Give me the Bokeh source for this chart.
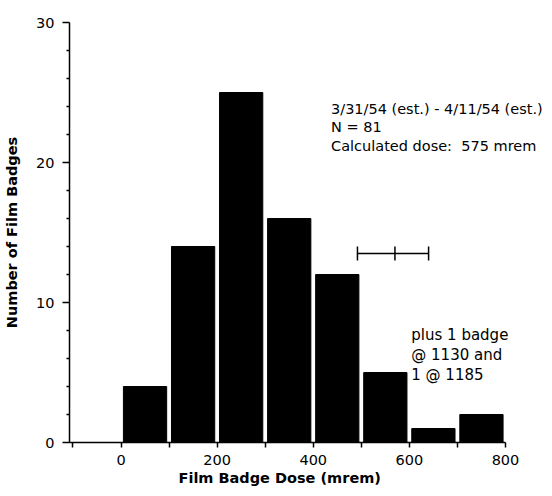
from bokeh.plotting import figure
from bokeh.models import Label, FixedTicker, Title
from bokeh.embed import file_html
from bokeh.resources import INLINE

# ---- data ----
bin_centers = [50, 150, 250, 350, 450, 550, 650, 750]   # mrem (100-mrem bins)
badge_counts = [4, 14, 25, 16, 12, 5, 1, 2]
x_tick_values = [0, 200, 400, 600, 800]
x_minor_values = [-100, 100, 300, 500, 700]
y_tick_values = [0, 10, 20, 30]
y_minor_values = [2, 4, 6, 8, 12, 14, 16, 18, 22, 24, 26, 28]
calc_dose = 570
calc_dose_low = 492
calc_dose_high = 640
calc_dose_level = 13.5
info_lines = ["3/31/54 (est.) - 4/11/54 (est.)", "N = 81", "Calculated dose:\u00a0 575 mrem"]
note_lines = ["plus 1 badge", "@ 1130 and", "1 @ 1185"]

FONT = "DejaVu Sans"
X_START = -107.2

p = figure(width=544, height=488, output_backend="svg", toolbar_location=None,
           x_range=(X_START, 881.2), y_range=(0, 30),
           min_border_left=69, min_border_right=0, min_border_top=22, min_border_bottom=46)
p.xgrid.visible = False
p.ygrid.visible = False
p.outline_line_color = None
p.background_fill_color = "white"
p.border_fill_color = "white"

p.vbar(x=bin_centers, top=badge_counts, bottom=0, width=90,
       fill_color="black", line_color="black")

# error bar for calculated dose
p.segment(x0=[calc_dose_low], y0=[calc_dose_level], x1=[calc_dose_high], y1=[calc_dose_level],
          line_color="black", line_width=1.5)
caps = [calc_dose_low, calc_dose, calc_dose_high]
p.segment(x0=caps, y0=[calc_dose_level - 0.5] * 3, x1=caps, y1=[calc_dose_level + 0.5] * 3,
          line_color="black", line_width=1.5)

# axes
xa = p.xaxis[0]
xa.ticker = FixedTicker(ticks=x_tick_values, minor_ticks=x_minor_values)
xa.bounds = (X_START, x_tick_values[-1])
ya = p.yaxis[0]
ya.ticker = FixedTicker(ticks=y_tick_values, minor_ticks=y_minor_values)
ya.axis_label = "Number of Film Badges"
for ax in (xa, ya):
    ax.axis_line_width = 1.5
    ax.axis_line_color = "black"
    ax.major_tick_line_color = "black"
    ax.minor_tick_line_color = "black"
    ax.major_tick_line_width = 1.5
    ax.minor_tick_line_width = 1.5
    ax.major_tick_in = 0
    ax.minor_tick_in = 0
    ax.major_label_text_font = FONT
    ax.major_label_text_font_size = "14.5px"
    ax.major_label_text_color = "black"
    ax.axis_label_text_font = FONT
    ax.axis_label_text_font_style = "bold"
    ax.axis_label_text_font_size = "14.5px"
    ax.axis_label_text_color = "black"
xa.major_tick_out = 5
xa.minor_tick_out = 5
xa.major_label_standoff = 7
ya.major_tick_out = 7
ya.minor_tick_out = 3
ya.major_label_standoff = 8
ya.axis_label_standoff = 13

p.add_layout(Title(text="Film Badge Dose (mrem)", align="left", offset=109, standoff=0,
                   text_font=FONT, text_font_style="bold", text_font_size="14.5px",
                   text_color="black"), "below")

# annotations
info_y = [23.857, 22.52, 21.16]
for txt, yy in zip(info_lines, info_y):
    p.add_layout(Label(x=437, y=yy, text=txt, text_font=FONT, text_font_size="14.5px",
                       text_color="black", text_baseline="alphabetic", text_align="left"))
note_y = [7.643, 6.264, 4.836]
for txt, yy in zip(note_lines, note_y):
    p.add_layout(Label(x=604, y=yy, text=txt, text_font=FONT, text_font_size="15px",
                       text_color="black", text_baseline="alphabetic", text_align="left"))

open("out.html", "w").write(file_html(p, INLINE))
